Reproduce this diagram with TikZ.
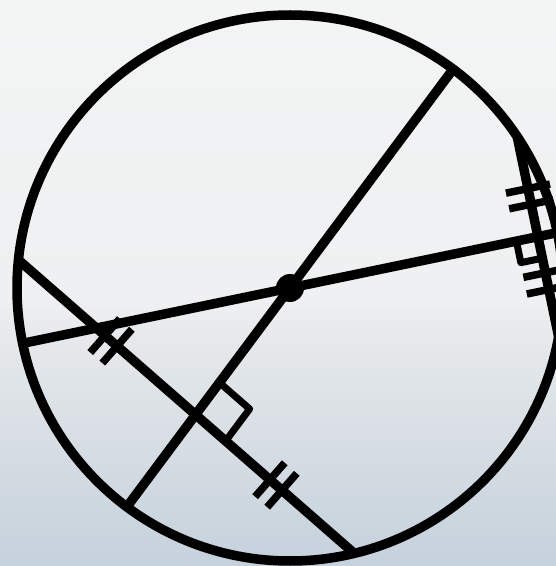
\documentclass[tikz,border=0pt]{standalone}
\usetikzlibrary{calc}
\definecolor{bgtop}{RGB}{243,244,244}
\definecolor{bgmidA}{RGB}{238,240,241}
\definecolor{bgmidB}{RGB}{231,234,236}
\definecolor{bgmidC}{RGB}{218,224,229}
\definecolor{bgbot}{RGB}{197,209,220}
\pgfdeclareverticalshading{bgshade}{100bp}{color(0bp)=(bgbot); color(25bp)=(bgbot); color(37.9bp)=(bgmidC); color(45.8bp)=(bgmidB); color(48.5bp)=(bgmidA); color(75bp)=(bgtop); color(100bp)=(bgtop)}
\tikzset{
  mainline/.style={line width=9.5pt, line cap=butt},
  tickline/.style={line width=7.5pt, line cap=butt},
  rmark/.style={line width=7pt, line join=round, line cap=butt},
}
\newcommand{\tickat}[3]{% line from #1 to #2, distance #3
  \coordinate (tc) at ($(#1)!#3!(#2)$);
  \draw[tickline] ($(tc)!22.5pt!90:(#2)$) -- ($(tc)!22.5pt!-90:(#2)$);
}
\begin{document}
\begin{tikzpicture}[x=1pt,y=1pt]
\useasboundingbox (0,0) rectangle (556,566);
\clip (0,0) rectangle (556,566);
\shade[shading=bgshade] (0,0) rectangle (556,566);
% centre and points on the circle
\coordinate (O) at (290,278);
\coordinate (A) at ($(O)+(53.3:273pt)$);
\coordinate (B) at ($(O)+(233.3:273pt)$);
\coordinate (C) at ($(O)+(191.7:273pt)$);
\coordinate (D) at ($(O)+(11.7:273pt)$);
\coordinate (L) at ($(O)+(174.1:273pt)$);
\coordinate (M) at ($(O)+(-76.4:273pt)$);
\coordinate (T) at ($(O)+(33.66:273pt)$);
\coordinate (U) at ($(O)+(-10.26:273pt)$);
\coordinate (F) at (intersection of A--B and L--M);
\coordinate (G) at (intersection of C--D and T--U);
% circle and lines
\draw[mainline] (O) circle[radius=273pt];
\draw[mainline] (A) -- (B);
\draw[mainline] (C) -- (D);
\draw[mainline] (L) -- (M);
\draw[mainline] (T) -- (U);
% right-angle marks
\coordinate (ra1) at ($(F)!40pt!(A)$);
\coordinate (ra3) at ($(F)!40pt!(M)$);
\coordinate (ra2) at ($(ra1)+(ra3)-(F)$);
\draw[rmark] (ra1) -- (ra2) -- (ra3);
\coordinate (rb1) at ($(G)!22pt!(C)$);
\coordinate (rb3) at ($(G)!22pt!(U)$);
\coordinate (rb2) at ($(rb1)+(rb3)-(G)$);
\draw[rmark] (rb1) -- (rb2) -- (rb3);
% tick marks
\tickat{L}{M}{115pt}
\tickat{L}{M}{131pt}
\tickat{L}{M}{334pt}
\tickat{L}{M}{350pt}
\tickat{T}{U}{53pt}
\tickat{T}{U}{69pt}
\tickat{T}{U}{139pt}
\tickat{T}{U}{156pt}
% centre dot
\fill (O) circle[radius=14pt];
\end{tikzpicture}
\end{document}
